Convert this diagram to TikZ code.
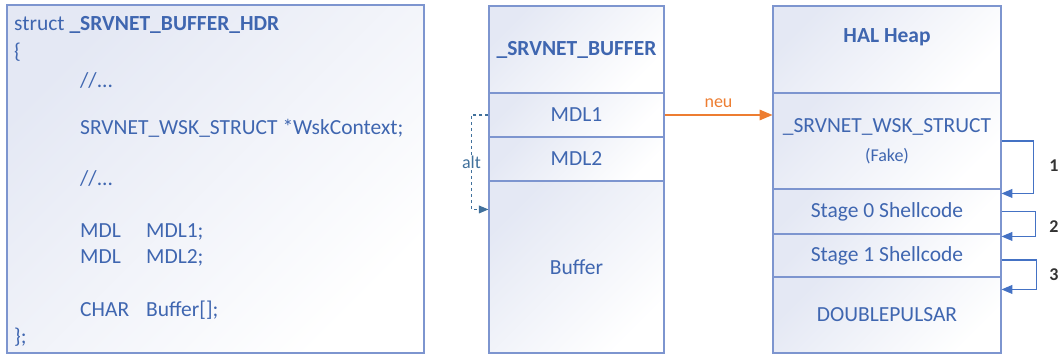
\documentclass[tikz,border=0pt]{standalone}
\usepackage{fontspec}
\setmainfont{Carlito}
\usepackage{tikz}
\usetikzlibrary{arrows}

\definecolor{txtblue}{HTML}{3F66B0}
\definecolor{boxline}{HTML}{7D95CF}
\definecolor{shadeblue}{HTML}{E4E8F4}
\definecolor{altblue}{HTML}{41719C}
\definecolor{loopblue}{HTML}{4472C4}
\definecolor{neuorange}{HTML}{ED7D31}

\begin{document}
\begin{tikzpicture}[x=1pt,y=-1pt,
    every node/.style={font=\fontsize{21.5}{25}\selectfont, text=txtblue, inner sep=0pt},
    cell/.style={draw=boxline, line width=1.1pt, top color=shadeblue, bottom color=white, shading angle=45},
    midcell/.style={cell, minimum width=175pt},
    heapcell/.style={cell, minimum width=228pt},
    codeline/.style={anchor=west},
    steplabel/.style={font=\bfseries\fontsize{18}{21}\selectfont, text=black!80}]
    \useasboundingbox (0,0) rectangle (1061,356);

    % struct definition
    \node[cell, minimum width=417pt, minimum height=348pt] (hdr) at (215.5,179) {};
    \node[codeline] (c1) at (14,25) {struct \textbf{\_SRVNET\_BUFFER\_HDR}};
    \node[codeline] (c2) at (14,52) {\{};
    \node[codeline] (c3) at (80,80) {//...};
    \node[codeline] (c4) at (80,128) {SRVNET\_WSK\_STRUCT *WskContext;};
    \node[codeline] (c5) at (80,178) {//...};
    \node[codeline] (c6) at (80,232) {\makebox[66pt][l]{MDL}MDL1;};
    \node[codeline] (c7) at (80,258) {\makebox[66pt][l]{MDL}MDL2;};
    \node[codeline] (c8) at (80,310) {\makebox[66pt][l]{CHAR}Buffer[];};
    \node[codeline] (c9) at (14,337) {\};};

    % srvnet buffer
    \node[midcell, minimum height=87pt] (bufhead) at (576.5,49.5) {\textbf{\_SRVNET\_BUFFER}};
    \node[midcell, minimum height=44pt] (mdl1) at (576.5,115) {MDL1};
    \node[midcell, minimum height=44pt] (mdl2) at (576.5,159) {MDL2};
    \node[midcell, minimum height=172pt] (buf) at (576.5,267) {Buffer};

    % hal heap
    \node[heapcell, minimum height=87pt] (heap) at (887,49.5) {};
    \node (heaptitle) at (887,37) {\textbf{HAL Heap}};
    \node[heapcell, minimum height=96pt, align=center] (wsk) at (887,141)
        {\_SRVNET\_WSK\_STRUCT\\[4pt]{\fontsize{18}{21}\selectfont(Fake)}};
    \node[heapcell, minimum height=45pt] (stage0) at (887,211.5) {Stage 0 Shellcode};
    \node[heapcell, minimum height=43pt] (stage1) at (887,255.5) {Stage 1 Shellcode};
    \node[heapcell, minimum height=76pt] (dp) at (887,315) {DOUBLEPULSAR};

    % pointers
    \draw[altblue, line width=1.2pt, dashed, -triangle 45] (mdl1.west) -- ++(-17,0)
        |- ([yshift=-29pt]buf.north west)
        node[pos=0.25, fill=white, inner sep=1pt, text=altblue, font=\fontsize{18}{21}\selectfont] {alt};
    \draw[neuorange, line width=2pt, -triangle 45] (mdl1.east) -- (wsk.west |- mdl1.east)
        node[midway, above=6pt, text=neuorange, font=\fontsize{18}{21}\selectfont] {neu};

    % execution steps
    \draw[loopblue, line width=1.5pt, -triangle 45] (wsk.east) -- ++(32,0) |- ([yshift=-5pt]stage0.north east);
    \draw[loopblue, line width=1.5pt, -triangle 45] (stage0.east) -- ++(34,0) |- ([yshift=-3pt]stage1.north east);
    \draw[loopblue, line width=1.5pt, -triangle 45] ([yshift=-4.5pt]stage1.east) -- ++(35,0) |- ([yshift=-13pt]dp.north east);
    \node[steplabel] (n1) at (1054,166) {1};
    \node[steplabel] (n2) at (1054,227) {2};
    \node[steplabel] (n3) at (1054,275) {3};
\end{tikzpicture}
\end{document}
